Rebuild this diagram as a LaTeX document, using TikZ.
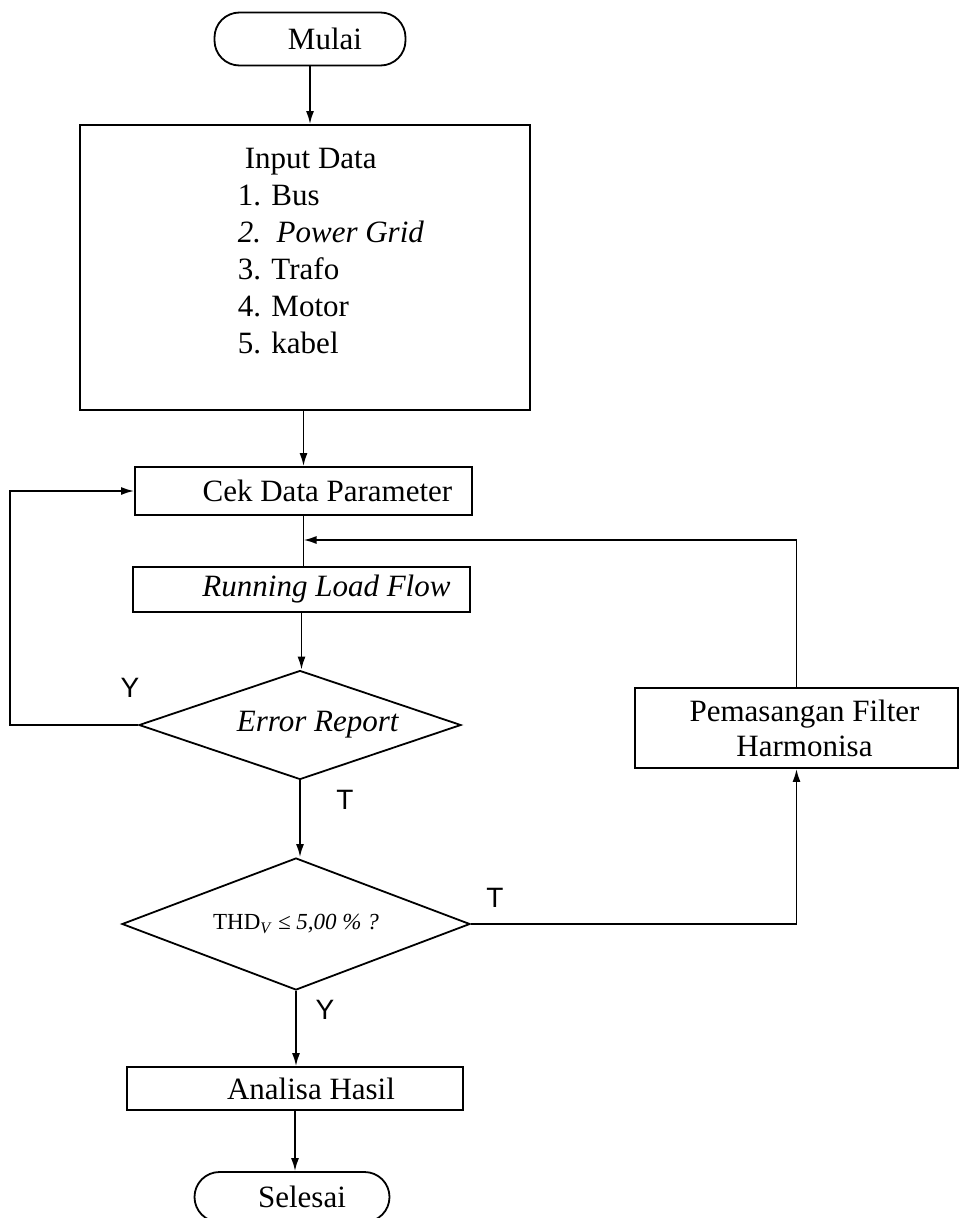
\documentclass[tikz,border=0pt]{standalone}
\usepackage{fontspec}
\setmainfont{Liberation Serif}
\newfontfamily\yesnofont{Liberation Sans}
\usepackage{tikz}
\usetikzlibrary{calc, positioning, arrows.meta, shapes.geometric}

\begin{document}
\begin{tikzpicture}
		[x=1pt, y=-1pt, line width=1.8pt, >={Latex[length=13pt,width=8pt]},
		every node/.style={font=\fontsize{31}{37}\selectfont},
		box/.style={rectangle, draw, text centered, inner sep=2pt},
		terminal/.style={rectangle, draw, rounded corners=25pt, text centered, inner sep=2pt},
		decision/.style={diamond, draw, inner sep=0pt},
		answer/.style={font=\yesnofont\fontsize{28}{32}\selectfont}]
		\useasboundingbox (0,0) rectangle (961,1218);

		% nodes %
		\node[terminal, minimum width=191, minimum height=53] (start) at (310,39) {\hspace*{30pt}Mulai};
		\node[box, minimum width=450, minimum height=285] (input) at (305,267.5) {};
		\node[align=left, anchor=north west, inner sep=0pt] (inputlist) at (237,147)
			{\hspace*{7pt}Input Data\\1. Bus\\\textit{2.\ \ Power Grid}\\3. Trafo\\4. Motor\\5. kabel};
		\node[box, minimum width=337, minimum height=48] (cek) at (303.5,491) {\hspace*{48pt}Cek Data Parameter};
		\node[box, minimum width=337, minimum height=45] (run) at (301.5,589.5) {\hspace*{50pt}\textit{Running Load Flow}};
		\node[decision, minimum width=322, minimum height=109,
			label={[xshift=18pt]center:\textit{Error Report}}] (err) at (300,725) {};
		\node[decision, minimum width=348, minimum height=132,
			label={[font=\fontsize{23}{27}\selectfont]center:THD\textsubscript{\textit{V}} \textit{≤ 5,00 \% ?}}] (thd) at (296,924) {};
		\node[box, align=center, minimum width=323, minimum height=80,
			font=\fontsize{31}{35}\selectfont] (filter) at (796.5,728) {\hspace*{16pt}Pemasangan Filter\\\hspace*{16pt}Harmonisa};
		\node[box, minimum width=336, minimum height=43] (ana) at (295,1088.5) {\hspace*{32pt}Analisa Hasil};
		\node[terminal, minimum width=195, minimum height=50] (stop) at (292,1197) {\hspace*{20pt}Selesai};

		% labels %
		\node[answer] (erry) at (130,688) {Y};
		\node[answer] (errt) at (345,800) {T};
		\node[answer] (thdt) at (495,898) {T};
		\node[answer] (thdy) at (325,1010) {Y};

		% edges %
		\coordinate (join) at (303.5,540);
		\draw[->] (start.south) -- (start.south |- input.north);
		\draw[->] (input.south -| cek.north) -- (cek.north);
		\draw (cek.south) -- (cek.south |- run.north);
		\draw[->] (run.south) -- (run.south |- err.north);
		\draw[->] (err.west) -- ++(-128,0) |- (cek.west);
		\draw[->] (err.south) -- (err.south |- thd.north);
		\draw[->] (thd.east) -| (filter.south);
		\draw[->] (filter.north) |- (join);
		\draw[->] (thd.south) -- (thd.south |- ana.north);
		\draw[->] (ana.south) -- (ana.south |- stop.north);
\end{tikzpicture}
\end{document}
